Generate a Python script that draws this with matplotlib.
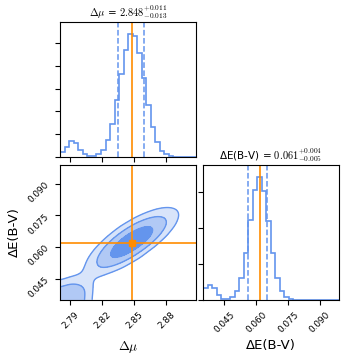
import numpy as np
import matplotlib
matplotlib.use("Agg")
import matplotlib.pyplot as plt
from matplotlib.colors import to_rgba
from matplotlib.ticker import MultipleLocator, NullFormatter

plt.rcParams["mathtext.fontset"] = "cm"

# parameter ranges shown on the axes
mu_range = (2.7806, 2.9079)
ebv_range = (0.0349, 0.0988)

# 1D marginal histograms (30 bins over each range)
mu_counts = [41, 91, 137, 120, 61, 23, 9, 9, 23, 61, 146, 292, 496, 724, 943,
             1077, 1063, 914, 689, 456, 266, 134, 55, 23, 9, 3, 0, 0, 0, 0]
ebv_counts = [167, 213, 167, 74, 19, 14, 42, 121, 306, 654, 1118, 1536, 1712, 1527, 1095,
              654, 306, 121, 42, 19, 5, 0, 0, 0, 0, 0, 0, 0, 0, 0]

# 16th / 84th percentiles and truth values
mu_quantiles = [2.835, 2.859]
ebv_quantiles = [0.056, 0.065]
mu_truth = 2.848
ebv_truth = 0.0617

mu_title = r"$\Delta\mu$ = $2.848_{-0.013}^{+0.011}$"
ebv_title = r"ΔE(B-V) = $0.061_{-0.005}^{+0.004}$"

xticks_mu = [2.79, 2.82, 2.85, 2.88]
xticks_ebv = [0.045, 0.060, 0.075, 0.090]

# joint log-density (rows: ΔE(B-V), cols: Δμ)
grid_mu = np.linspace(2.78, 2.91, 14)
grid_ebv = np.linspace(0.035, 0.100, 14)
log_density = np.array([
    [-2.09, -1.45, -1.75, -3.82, -7.73, -9, -9, -9, -9, -9, -9, -9, -9, -9],
    [-1.80, -1.40, -1.60, -3.46, -7.29, -9, -9, -9, -9, -9, -9, -9, -9, -9],
    [-4.42, -3.29, -3.57, -4.09, -4.81, -6.64, -9, -9, -9, -9, -9, -9, -9, -9],
    [-9, -6.87, -4.49, -2.82, -2.10, -2.57, -4.18, -7.02, -9, -9, -9, -9, -9, -9],
    [-9, -9, -5.69, -3.16, -1.52, -0.75, -1.05, -2.56, -5.22, -9, -9, -9, -9, -9],
    [-9, -9, -8.45, -5.06, -2.57, -0.91, -0.13, -0.30, -1.62, -4.12, -7.85, -9, -9, -9],
    [-9, -9, -9, -8.50, -5.16, -2.64, -0.99, -0.20, -0.28, -1.46, -3.84, -7.35, -9, -9],
    [-9, -9, -9, -9, -9, -5.85, -3.38, -1.72, -0.95, -1.03, -2.09, -4.29, -7.72, -9],
    [-9, -9, -9, -9, -9, -9, -7.33, -4.80, -3.19, -2.40, -2.48, -3.44, -5.51, -8.73],
    [-9, -9, -9, -9, -9, -9, -9, -9, -6.91, -5.29, -4.52, -4.61, -5.55, -7.47],
    [-9, -9, -9, -9, -9, -9, -9, -9, -9, -9, -8.10, -7.35, -7.41, -8.36],
    [-9] * 14,
    [-9] * 14,
    [-9] * 14,
])
contour_levels = [-4.2, -2.5, -1.2]

blue = "cornflowerblue"
orange = "darkorange"

# upsample the table and smooth it a little
fine_mu = np.linspace(grid_mu[0], grid_mu[-1], 131)
fine_ebv = np.linspace(grid_ebv[0], grid_ebv[-1], 131)
rows = np.array([np.interp(fine_mu, grid_mu, r) for r in log_density])
dens = np.array([np.interp(fine_ebv, grid_ebv, c) for c in rows.T]).T
kern = np.exp(-0.5 * (np.arange(-12, 13) / 4.0) ** 2)
kern /= kern.sum()
dens = np.pad(dens, 12, mode="edge")
dens = np.apply_along_axis(lambda m: np.convolve(m, kern, mode="valid"), 0, dens)
dens = np.apply_along_axis(lambda m: np.convolve(m, kern, mode="valid"), 1, dens)

fig = plt.figure(figsize=(3.49, 3.61), dpi=100)
ax_mu = fig.add_axes([0.1728, 0.5651, 0.3888, 0.3740])
ax_2d = fig.add_axes([0.1728, 0.1690, 0.3888, 0.3740])
ax_ebv = fig.add_axes([0.5817, 0.1690, 0.3888, 0.3740])

# Δμ marginal
mu_edges = np.linspace(mu_range[0], mu_range[1], len(mu_counts) + 1)
ax_mu.stairs(mu_counts, mu_edges, color=blue, lw=1.2)
for q in mu_quantiles:
    ax_mu.axvline(q, color=blue, ls="--", lw=1.1)
ax_mu.axvline(mu_truth, color=orange, lw=1.2)
ax_mu.set_xlim(mu_range)
ax_mu.set_ylim(0, 1.1 * max(mu_counts))
ax_mu.set_xticks(xticks_mu)
ax_mu.xaxis.set_major_formatter(NullFormatter())
ax_mu.yaxis.set_major_locator(MultipleLocator(200))
ax_mu.yaxis.set_major_formatter(NullFormatter())
ax_mu.set_title(mu_title, fontsize=7.5, pad=4)

# ΔE(B-V) marginal
ebv_edges = np.linspace(ebv_range[0], ebv_range[1], len(ebv_counts) + 1)
ax_ebv.stairs(ebv_counts, ebv_edges, color=blue, lw=1.2)
for q in ebv_quantiles:
    ax_ebv.axvline(q, color=blue, ls="--", lw=1.1)
ax_ebv.axvline(ebv_truth, color=orange, lw=1.2)
ax_ebv.set_xlim(ebv_range)
ax_ebv.set_ylim(0, 1.1 * max(ebv_counts))
ax_ebv.set_xticks(xticks_ebv)
ax_ebv.set_xticklabels([f"{t:.3f}" for t in xticks_ebv], rotation=45, fontsize=6.4)
ax_ebv.yaxis.set_major_locator(MultipleLocator(500))
ax_ebv.yaxis.set_major_formatter(NullFormatter())
ax_ebv.set_title(ebv_title, fontsize=7.5, pad=4)
ax_ebv.set_xlabel("ΔE(B-V)", fontsize=9.5)
ax_ebv.xaxis.set_label_coords(0.5, -0.29)

# joint distribution
rgba = to_rgba(blue)
fills = [rgba[:3] + (0.25,), rgba[:3] + (0.5,), rgba[:3] + (1.0,)]
ax_2d.contourf(fine_mu, fine_ebv, dens, levels=contour_levels + [dens.max() + 1], colors=fills)
ax_2d.contour(fine_mu, fine_ebv, dens, levels=contour_levels, colors=blue,
              linewidths=1.0, linestyles="solid")
ax_2d.axvline(mu_truth, color=orange, lw=1.2)
ax_2d.axhline(ebv_truth, color=orange, lw=1.2)
ax_2d.plot(mu_truth, ebv_truth, "s", color=orange, ms=5)
ax_2d.set_xlim(mu_range)
ax_2d.set_ylim(ebv_range)
ax_2d.set_xticks(xticks_mu)
ax_2d.set_xticklabels([f"{t:.2f}" for t in xticks_mu], rotation=45, fontsize=6.4)
ax_2d.set_yticks(xticks_ebv)
ax_2d.set_yticklabels([f"{t:.3f}" for t in xticks_ebv], rotation=45, fontsize=6.4)
ax_2d.set_xlabel(r"$\Delta\mu$", fontsize=9.5)
ax_2d.set_ylabel("ΔE(B-V)", fontsize=9.5)
ax_2d.xaxis.set_label_coords(0.5, -0.29)
ax_2d.yaxis.set_label_coords(-0.29, 0.5)

fig.savefig("out.png", dpi=100)
